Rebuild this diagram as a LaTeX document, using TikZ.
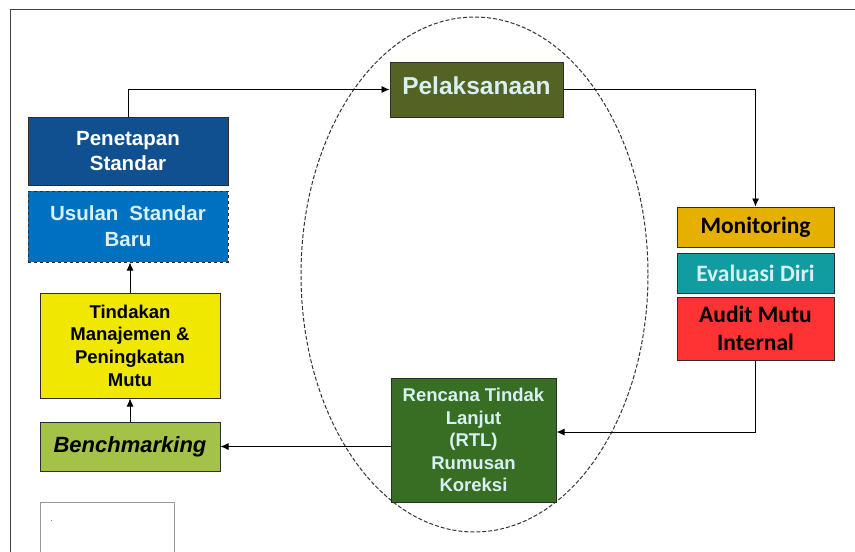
\documentclass[tikz,border=0pt]{standalone}
\usepackage{fontspec}
\setmainfont{Liberation Sans}
\newfontfamily\calfont{Carlito}
\usetikzlibrary{arrows.meta}
\definecolor{pelc}{RGB}{84,98,35}
\definecolor{lighttxt}{RGB}{215,240,242}
\definecolor{penc}{RGB}{16,80,144}
\definecolor{usuc}{RGB}{0,112,192}
\definecolor{tinc}{RGB}{240,232,0}
\definecolor{benc}{RGB}{164,194,72}
\definecolor{rtlc}{RGB}{56,110,36}
\definecolor{monc}{RGB}{230,176,0}
\definecolor{evac}{RGB}{16,156,160}
\definecolor{audc}{RGB}{255,51,51}
\definecolor{edge}{RGB}{45,45,45}
\tikzset{
  boxstyle/.style={draw=edge, line width=1pt, inner sep=0pt, align=center, font=\bfseries},
  conn/.style={line width=0.9pt, draw=black, -{Latex[length=8pt,width=7pt]}},
}
\begin{document}
\begin{tikzpicture}[x=1pt,y=-1pt]
\useasboundingbox (0,0) rectangle (855,552);
% frame
\draw[draw=edge!90, line width=0.9pt] (10,552) -- (10,9) -- (855,9);
% ellipse
\draw[line width=1pt, draw=black!80, dash pattern=on 4pt off 2pt] (474.5,274.5) ellipse [x radius=173.5, y radius=257.5];
% boxes
\node[boxstyle, fill=pelc, text=lighttxt, minimum width=173pt, minimum height=55pt, font=\bfseries\fontsize{24.5}{28}\selectfont] (pel) at (476.5,89.5) {\raisebox{7pt}{Pelaksanaan}};
\node[boxstyle, fill=penc, text=white, minimum width=200pt, minimum height=68pt, font=\bfseries\fontsize{20.5}{25}\selectfont] (pen) at (128,151) {Penetapan\\Standar};
\node[boxstyle, dashed, fill=usuc, text=lighttxt, minimum width=200pt, minimum height=71pt, font=\bfseries\fontsize{20.5}{26}\selectfont] (usu) at (128,226.5) {Usulan\hspace{11pt}Standar\\Baru};
\node[boxstyle, fill=tinc, text=black, minimum width=180pt, minimum height=105pt, font=\bfseries\fontsize{18.5}{22.7}\selectfont] (tin) at (130,345.5) {Tindakan\\Manajemen \&\\Peningkatan\\Mutu};
\node[boxstyle, fill=benc, text=black, minimum width=180pt, minimum height=49pt, font=\bfseries\itshape\fontsize{22}{26}\selectfont] (ben) at (130,446.5) {Benchmarking};
\node[boxstyle, fill=rtlc, text=lighttxt, minimum width=165pt, minimum height=124pt, font=\bfseries\fontsize{18.5}{22.5}\selectfont] (rtl) at (473.5,440) {Rencana Tindak\\Lanjut\\(RTL)\\Rumusan\\Koreksi};
\node[boxstyle, fill=monc, text=black, minimum width=157pt, minimum height=40pt, font=\calfont\bfseries\fontsize{23.5}{28}\selectfont] (mon) at (755.5,227) {Monitoring};
\node[boxstyle, fill=evac, text=lighttxt, minimum width=157pt, minimum height=40pt, font=\calfont\bfseries\fontsize{23.5}{28}\selectfont] (eva) at (755.5,273) {Evaluasi Diri};
\node[boxstyle, fill=audc, text=black, minimum width=157pt, minimum height=63pt, font=\calfont\bfseries\fontsize{23.5}{28}\selectfont] (aud) at (755.5,328.5) {Audit Mutu\\Internal};
% connectors
\draw[conn] (pen.north) |- (pel.west);
\draw[conn] (pel.east) -| (mon.north);
\draw[conn] (aud.south) |- ([yshift=8pt]rtl.east);
\draw[conn] (rtl.west |- ben.east) -- (ben.east);
\draw[conn] (ben.north) -- (tin.south);
\draw[conn] (tin.north) -- (tin.north |- usu.south);
% small box at bottom
\draw[draw=black!40, line width=0.8pt] (40,552) -- (40,502) -- (174,502) -- (174,552);
\fill[black!50] (50.5,519.5) rectangle (52,521);
\end{tikzpicture}
\end{document}
